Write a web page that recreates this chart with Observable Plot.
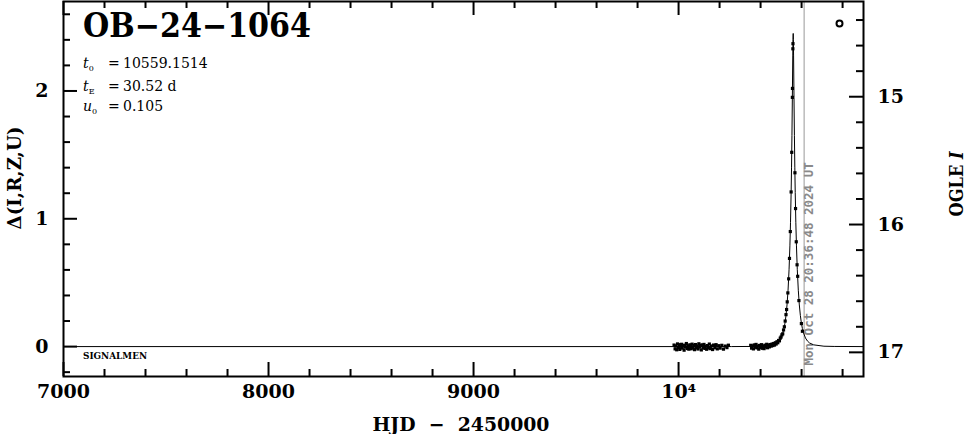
<!DOCTYPE html>
<html>
<head>
<meta charset="utf-8">
<script src="https://cdn.jsdelivr.net/npm/d3@7"></script>
<script src="https://cdn.jsdelivr.net/npm/@observablehq/plot@0.6"></script>
<style>
  html, body { margin: 0; padding: 0; background: #fff; }
  svg { display: block; }
</style>
</head>
<body>
<div id="chart"></div>
<script>
// ---------- data ----------
const eventName = "OB−24−1064";
const paramT0 = "10559.1514";
const paramTE = "30.52 d";
const paramU0 = "0.105";
const surveyLabel = "SIGNALMEN";
const nowLabel = "Mon Oct 28 20:36:48 2024 UT";
const nowHJD = 10612.36;
const baseMag = 16.955;

// observed points: HJD-2450000 and Δ mag
const obsHJD = [
  9978, 9983, 9986, 9991, 9995, 9999, 10003, 10006, 10011, 10015, 10018, 10022, 10027, 10031, 10034,
  10038, 10043, 10047, 10050, 10055, 10059, 10062, 10066, 10071, 10075, 10078, 10083, 10087, 10091,
  10095, 10099, 10103, 10107, 10111, 10115, 10120, 10124, 10128, 10132, 10137, 10141, 10146, 10150,
  10155, 10160, 10166, 10171, 10177, 10183, 10189, 10196, 10203, 10211, 10219, 10228, 10236, 10243,
  10352, 10356, 10361, 10365, 10369, 10374, 10378, 10382, 10387, 10391, 10395, 10400, 10404, 10408,
  10413, 10417, 10421, 10426, 10430, 10434, 10439, 10443, 10447, 10452, 10456, 10460, 10464, 10468,
  10472, 10476, 10480, 10484, 10488, 10492, 10496, 10500, 10504, 10508, 10512, 10516, 10520,
  10524, 10527, 10530, 10533, 10537, 10541, 10545, 10549, 10552, 10555, 10555.5, 10557.5, 10558,
  10567.6, 10570.6, 10574, 10578, 10581, 10587, 10599, 10604
];
const obsDelta = [
  0.012, -0.018, 0.005, -0.025, 0.021, -0.008, 0.015, -0.022, 0.002, 0.018, -0.012, 0.008, -0.028, 0.011, -0.004,
  0.024, -0.015, 0.006, -0.020, 0.014, 0.001, -0.017, 0.019, -0.006, 0.009, -0.024, 0.016, -0.010, 0.004,
  -0.019, 0.022, -0.003, 0.010, -0.026, 0.013, -0.007, 0.017, -0.014, 0.003, -0.021, 0.008, -0.011, 0.020,
  -0.016, 0.005, -0.023, 0.012, -0.009, 0.015, -0.018, 0.007, -0.012, 0.010, -0.020, 0.004, -0.008, 0.011,
  0.010, -0.012, 0.006, -0.018, 0.013, -0.005, 0.017, -0.010, 0.003, -0.020, 0.009, -0.006, 0.015, -0.013,
  0.004, -0.016, 0.011, -0.003, 0.018, -0.009, 0.012, -0.002, 0.016, 0.004, 0.020, 0.008, 0.024, 0.012,
  0.030, 0.020, 0.038, 0.030, 0.048, 0.045, 0.066, 0.075, 0.092, 0.100, 0.130, 0.155, 0.200,
  0.25, 0.29, 0.35, 0.42, 0.53, 0.69, 0.90, 1.21, 1.52, 1.95, 2.02, 2.33, 2.37,
  1.36, 1.08, 0.82, 0.64, 0.55, 0.36, 0.18, 0.12
];

// model curve
const modelHJD = [
  7000, 10000, 10259, 10359, 10409, 10459, 10479, 10489, 10499, 10509, 10514, 10519, 10524, 10529,
  10534, 10539, 10543, 10546, 10549, 10551, 10553, 10555, 10557, 10558, 10559.15,
  10560, 10561, 10563, 10565, 10567, 10569, 10572, 10575, 10579, 10584, 10589, 10594, 10599, 10604,
  10609, 10619, 10629, 10639, 10659, 10709, 10759, 10902
];
const modelDelta = [
  0.000, 0.000, 0.0002, 0.0012, 0.003, 0.0135, 0.028, 0.043, 0.067, 0.109, 0.141, 0.184, 0.244, 0.326,
  0.441, 0.605, 0.788, 0.969, 1.205, 1.404, 1.650, 1.949, 2.274, 2.401, 2.45,
  2.401, 2.274, 1.949, 1.650, 1.404, 1.205, 0.969, 0.788, 0.605, 0.441, 0.326, 0.244, 0.184, 0.141,
  0.109, 0.067, 0.043, 0.028, 0.0135, 0.003, 0.0012, 0.000
];

// axes ticks
const xMajor = [7000, 8000, 9000, 10000];
const xLabels = ["7000", "8000", "9000", "10⁴"];
const xMinor = [7200, 7400, 7600, 7800, 8200, 8400, 8600, 8800, 9200, 9400, 9600, 9800, 10200, 10400, 10600, 10800];
const yMajor = [0, 1, 2];
const yLabels = ["0", "1", "2"];
const yMinor = [-0.2, 0.2, 0.4, 0.6, 0.8, 1.2, 1.4, 1.6, 1.8, 2.2, 2.4, 2.6];
const magMajor = [15, 16, 17];
const magLabels = ["15", "16", "17"];
const magMinor = [14.4, 14.6, 14.8, 15.2, 15.4, 15.6, 15.8, 16.2, 16.4, 16.6, 16.8];

// ---------- chart ----------
const W = 966, H = 434;
const mL = 63, mR = 103, mT = 1, mB = 58;
const pw = W - mL - mR, ph = H - mT - mB;
const SERIF = "'DejaVu Serif', 'Liberation Serif', serif";

const obs = obsHJD.map((t, i) => ({t, d: obsDelta[i]}));
const model = modelHJD.map((t, i) => ({t, d: modelDelta[i]}));

const tickW = 2;
const chart = Plot.plot({
  width: W, height: H,
  marginLeft: mL, marginRight: mR, marginTop: mT, marginBottom: mB,
  x: {domain: [7000, 10902], axis: null},
  y: {domain: [-0.234, 2.70], axis: null},
  style: {fontFamily: SERIF, background: "#fff", color: "#000"},
  marks: [
    // "now" line
    Plot.ruleX([nowHJD], {stroke: "#999", strokeWidth: 1}),
    Plot.text([nowLabel], {x: nowHJD, frameAnchor: "bottom", dx: 9, dy: -11, rotate: -90,
      textAnchor: "start", text: d => d, fill: "#8a8a8a", fontWeight: "bold", fontSize: 12.5,
      fontFamily: "'DejaVu Sans Mono', monospace"}),
    // model
    Plot.line(model, {x: "t", y: "d", stroke: "#000", strokeWidth: 1}),
    // observations
    Plot.dot(obs, {x: "t", y: "d", symbol: "square", r: 1.8, fill: "#000"}),
    // bottom / top ticks
    Plot.ruleX(xMinor, {x: d => d, insetTop: ph - 7, stroke: "#000", strokeWidth: tickW}),
    Plot.ruleX(xMajor, {x: d => d, insetTop: ph - 14, stroke: "#000", strokeWidth: tickW}),
    Plot.ruleX(xMinor, {x: d => d, insetBottom: ph - 7, stroke: "#000", strokeWidth: tickW}),
    Plot.ruleX(xMajor, {x: d => d, insetBottom: ph - 14, stroke: "#000", strokeWidth: tickW}),
    // left ticks
    Plot.ruleY(yMinor, {y: d => d, insetRight: pw - 7, stroke: "#000", strokeWidth: tickW}),
    Plot.ruleY(yMajor, {y: d => d, insetRight: pw - 14, stroke: "#000", strokeWidth: tickW}),
    // right ticks (OGLE I mag)
    Plot.ruleY(magMinor, {y: m => baseMag - m, insetLeft: pw - 7, stroke: "#000", strokeWidth: tickW}),
    Plot.ruleY(magMajor, {y: m => baseMag - m, insetLeft: pw - 14, stroke: "#000", strokeWidth: tickW}),
    // tick labels
    Plot.text(xMajor, {x: d => d, text: (d, i) => xLabels[i], frameAnchor: "bottom", dy: 21,
      fontSize: 19, fontWeight: "bold"}),
    Plot.text(yMajor, {y: d => d, text: (d, i) => yLabels[i], frameAnchor: "left", dx: -15,
      textAnchor: "end", fontSize: 19, fontWeight: "bold"}),
    Plot.text(magMajor, {y: m => baseMag - m, text: (d, i) => magLabels[i], frameAnchor: "right", dx: 14,
      textAnchor: "start", fontSize: 19, fontWeight: "bold"}),
    // legend symbol
    Plot.dot([0], {frameAnchor: "top-right", dx: -24, dy: 22, r: 3, stroke: "#000", strokeWidth: 2, fill: "none"}),
    Plot.frame({stroke: "#000", strokeWidth: 2})
  ]
});

document.getElementById("chart").appendChild(chart);

// ---------- annotations ----------
const svg = d3.select(chart);
const g = svg.append("g").attr("font-family", SERIF).attr("fill", "#000").attr("text-anchor", "start");

g.append("text").attr("x", 83).attr("y", 37).attr("font-size", 33).attr("font-weight", "bold")
  .attr("textLength", 228).attr("lengthAdjust", "spacingAndGlyphs").text(eventName);

function paramLine(y, sym, sub, val) {
  const t = g.append("text").attr("x", 83).attr("y", y).attr("font-size", 14);
  t.append("tspan").attr("font-style", "italic").text(sym);
  t.append("tspan").attr("font-size", 8).attr("dy", 3).text(sub);
  t.append("tspan").attr("x", 108).attr("dy", -3).text("=");
  t.append("tspan").attr("x", 123).text(val);
}
paramLine(68, "t", "0", paramT0);
paramLine(91, "t", "E", paramTE);
paramLine(111, "u", "0", paramU0);

g.append("text").attr("x", 83).attr("y", 359).attr("font-size", 9.5).attr("font-weight", "bold")
  .attr("textLength", 64).attr("lengthAdjust", "spacingAndGlyphs").text(surveyLabel);

g.append("text").attr("x", 461).attr("y", 431).attr("text-anchor", "middle")
  .attr("font-size", 19).attr("font-weight", "bold")
  .attr("textLength", 177).attr("lengthAdjust", "spacingAndGlyphs").text("HJD  −  2450000");

g.append("text").attr("transform", "translate(21,178) rotate(-90)").attr("text-anchor", "middle")
  .attr("font-size", 19).attr("font-weight", "bold")
  .attr("textLength", 103).attr("lengthAdjust", "spacingAndGlyphs").text("Δ(I,R,Z,U)");

const og = g.append("text").attr("transform", "translate(963,184) rotate(-90)").attr("text-anchor", "middle")
  .attr("font-size", 19).attr("font-weight", "bold")
  .attr("textLength", 65).attr("lengthAdjust", "spacingAndGlyphs");
og.append("tspan").text("OGLE ");
og.append("tspan").attr("font-style", "italic").text("I");
</script>
</body>
</html>
